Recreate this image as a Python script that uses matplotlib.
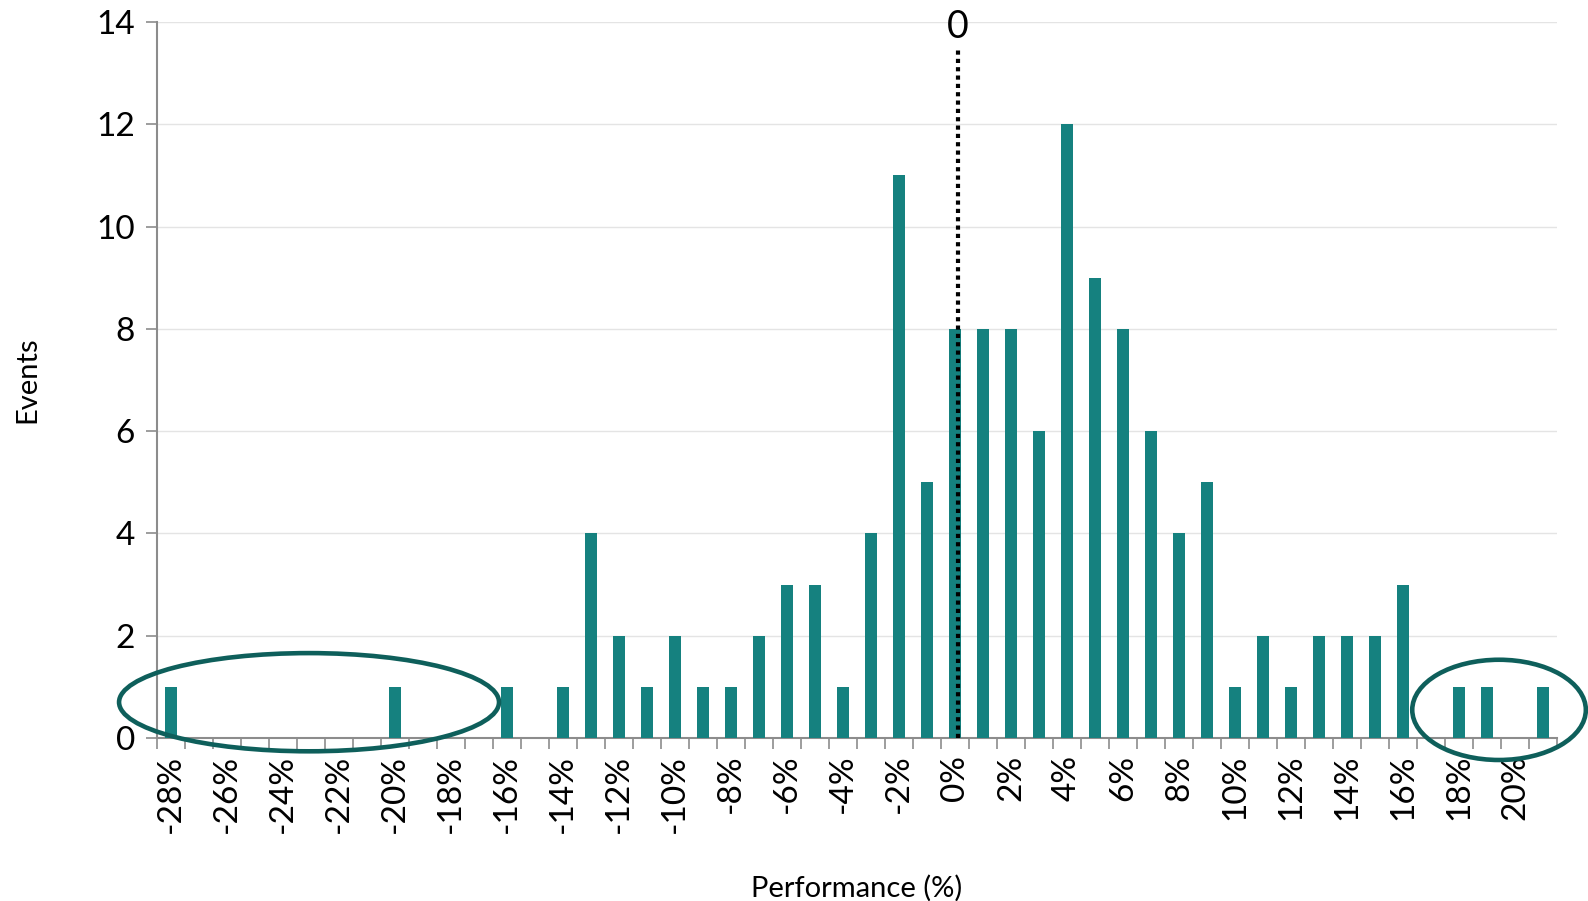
import matplotlib
matplotlib.use("Agg")
import matplotlib.pyplot as plt
from matplotlib.patches import Ellipse
import numpy as np

plt.rcParams['font.family'] = ['Lato', 'DejaVu Sans']

# Data: performance buckets (%) and event counts
performance = list(range(-28, 22))
events = [1, 0, 0, 0, 0, 0, 0, 0, 1, 0,   # -28 .. -19
          0, 0, 1, 0, 1, 4, 2, 1, 2, 1,   # -18 .. -9
          1, 2, 3, 3, 1, 4, 11, 5, 8, 8,  # -8 .. 1
          8, 6, 12, 9, 8, 6, 4, 5, 1, 2,  # 2 .. 11
          1, 2, 2, 2, 3, 0, 1, 1, 0, 1]   # 12 .. 21
tick_values = list(range(-28, 21, 2))
tick_labels = [f"{v}%" for v in tick_values]
y_ticks = [0, 2, 4, 6, 8, 10, 12, 14]

bar_color = '#15817F'
ell_color = '#0E5F5B'
axis_gray = '#8C8C8C'

fig = plt.figure(figsize=(15.88, 9.01), dpi=100)
ax = fig.add_axes([157/1588, 1-738/901, 1400/1588, 716/901])

ax.bar(performance, events, width=0.4, color=bar_color, zorder=3)

ax.set_xlim(performance[0]-0.5, performance[-1]+0.5)
ax.set_ylim(0, 14)

# y axis
ax.set_yticks(y_ticks)
ax.tick_params(axis='y', labelsize=24, length=8, width=1.2, color=axis_gray, pad=8)
ax.yaxis.grid(True, color='#E4E4E4', linewidth=1.0, zorder=0)

# x axis: tick marks at bucket boundaries, labels at even buckets
bounds = np.arange(performance[0]-0.5, performance[-1]+0.51, 1.0)
ax.set_xticks(bounds)
ax.set_xticklabels([])
ax.tick_params(axis='x', which='major', length=8, width=1.2, color=axis_gray)
ax.set_xticks(tick_values, minor=True)
ax.set_xticklabels(tick_labels, minor=True, rotation=90)
ax.tick_params(axis='x', which='minor', length=0, labelsize=24, pad=12)

for s in ['top', 'right']:
    ax.spines[s].set_visible(False)
for s in ['left', 'bottom']:
    ax.spines[s].set_color(axis_gray)
    ax.spines[s].set_linewidth(1.5)

ax.set_ylabel('Events', fontsize=21, labelpad=40)
ax.set_xlabel('Performance (%)', fontsize=21, labelpad=30)

# zero reference line
ax.plot([0.1, 0.1], [0, 13.5], color='black', linewidth=3,
        linestyle=(0, (1, 1)), zorder=4)
ax.text(0.1, 13.55, '0', fontsize=27, ha='center', va='bottom')

# highlight ellipses
e1 = Ellipse((-23.07, 0.70), 13.57, 1.92, fill=False, edgecolor=ell_color,
             linewidth=3.3, clip_on=False, zorder=5)
e2 = Ellipse((19.43, 0.55), 6.2, 1.96, fill=False, edgecolor=ell_color,
             linewidth=3.3, clip_on=False, zorder=5)
ax.add_patch(e1)
ax.add_patch(e2)

fig.savefig('out.png', dpi=100)
